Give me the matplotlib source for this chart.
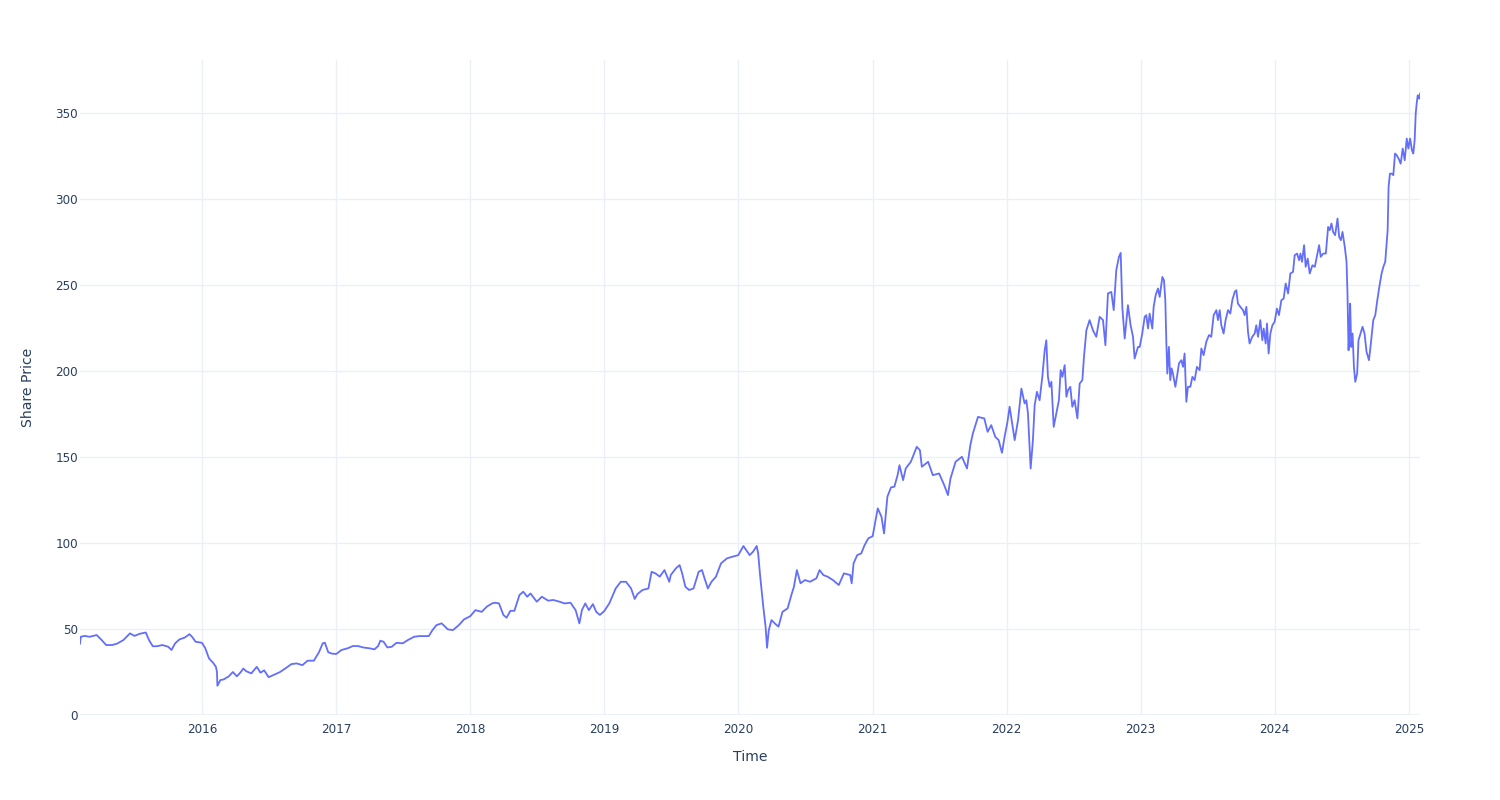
import numpy as np
import pandas as pd
import matplotlib
matplotlib.use("Agg")
import matplotlib.pyplot as plt
import matplotlib.dates as mdates

# Time stamps as decimal years and share price
t_year = [
    2015.090, 2015.096, 2015.123, 2015.162, 2015.214, 2015.247, 2015.285, 2015.329, 2015.367, 2015.414,
    2015.463, 2015.496, 2015.534, 2015.581, 2015.605, 2015.633, 2015.666, 2015.704, 2015.748, 2015.773,
    2015.800, 2015.833, 2015.871, 2015.907, 2015.926, 2015.953, 2016.000, 2016.025, 2016.052, 2016.085,
    2016.104, 2016.112, 2016.115, 2016.137, 2016.162, 2016.200, 2016.230, 2016.260, 2016.285, 2016.308,
    2016.329, 2016.367, 2016.408, 2016.436, 2016.463, 2016.496, 2016.534, 2016.581, 2016.619, 2016.666,
    2016.704, 2016.748, 2016.786, 2016.833, 2016.871, 2016.899, 2016.915, 2016.940, 2016.967, 2017.000,
    2017.038, 2017.085, 2017.123, 2017.162, 2017.200, 2017.247, 2017.285, 2017.312, 2017.329, 2017.353,
    2017.381, 2017.414, 2017.449, 2017.496, 2017.534, 2017.581, 2017.619, 2017.666, 2017.690, 2017.718,
    2017.748, 2017.786, 2017.833, 2017.871, 2017.915, 2017.953, 2018.000, 2018.038, 2018.085, 2018.123,
    2018.162, 2018.186, 2018.214, 2018.247, 2018.271, 2018.299, 2018.329, 2018.367, 2018.395, 2018.425,
    2018.449, 2018.496, 2018.534, 2018.581, 2018.619, 2018.666, 2018.704, 2018.748, 2018.786, 2018.814,
    2018.833, 2018.858, 2018.885, 2018.915, 2018.940, 2018.967, 2019.000, 2019.038, 2019.085, 2019.123,
    2019.162, 2019.200, 2019.227, 2019.247, 2019.285, 2019.329, 2019.353, 2019.381, 2019.414, 2019.449,
    2019.485, 2019.496, 2019.534, 2019.562, 2019.581, 2019.605, 2019.633, 2019.666, 2019.704, 2019.729,
    2019.748, 2019.773, 2019.800, 2019.833, 2019.871, 2019.915, 2019.953, 2020.000, 2020.038, 2020.085,
    2020.110, 2020.137, 2020.148, 2020.162, 2020.186, 2020.203, 2020.214, 2020.227, 2020.247, 2020.271,
    2020.299, 2020.329, 2020.367, 2020.395, 2020.414, 2020.436, 2020.463, 2020.496, 2020.534, 2020.581,
    2020.605, 2020.633, 2020.666, 2020.704, 2020.748, 2020.786, 2020.833, 2020.844, 2020.858, 2020.885,
    2020.915, 2020.940, 2020.967, 2021.000, 2021.038, 2021.066, 2021.085, 2021.110, 2021.137, 2021.162,
    2021.186, 2021.200, 2021.227, 2021.247, 2021.285, 2021.329, 2021.353, 2021.367, 2021.414, 2021.449,
    2021.496, 2021.534, 2021.562, 2021.581, 2021.619, 2021.666, 2021.704, 2021.729, 2021.748, 2021.786,
    2021.833, 2021.858, 2021.885, 2021.915, 2021.940, 2021.965, 2021.985, 2022.005, 2022.022, 2022.060,
    2022.085, 2022.110, 2022.134, 2022.147, 2022.159, 2022.179, 2022.196, 2022.209, 2022.226, 2022.246,
    2022.266, 2022.284, 2022.296, 2022.308, 2022.321, 2022.334, 2022.351, 2022.371, 2022.390, 2022.403,
    2022.416, 2022.433, 2022.446, 2022.458, 2022.475, 2022.490, 2022.507, 2022.528, 2022.545, 2022.565,
    2022.577, 2022.595, 2022.619, 2022.644, 2022.669, 2022.694, 2022.719, 2022.737, 2022.756, 2022.781,
    2022.799, 2022.818, 2022.838, 2022.851, 2022.863, 2022.881, 2022.905, 2022.925, 2022.943, 2022.955,
    2022.980, 2022.993, 2023.012, 2023.030, 2023.042, 2023.055, 2023.067, 2023.087, 2023.097, 2023.112,
    2023.129, 2023.142, 2023.162, 2023.174, 2023.184, 2023.192, 2023.199, 2023.211, 2023.221, 2023.231,
    2023.241, 2023.259, 2023.271, 2023.286, 2023.304, 2023.316, 2023.328, 2023.341, 2023.353, 2023.371,
    2023.386, 2023.403, 2023.420, 2023.440, 2023.453, 2023.470, 2023.490, 2023.510, 2023.527, 2023.545,
    2023.565, 2023.577, 2023.590, 2023.602, 2023.619, 2023.634, 2023.652, 2023.669, 2023.684, 2023.702,
    2023.714, 2023.726, 2023.744, 2023.764, 2023.776, 2023.789, 2023.801, 2023.813, 2023.833, 2023.851,
    2023.863, 2023.876, 2023.893, 2023.908, 2023.918, 2023.933, 2023.943, 2023.955, 2023.968, 2023.983,
    2024.000, 2024.017, 2024.032, 2024.050, 2024.067, 2024.082, 2024.100, 2024.117, 2024.137, 2024.149,
    2024.167, 2024.182, 2024.192, 2024.204, 2024.219, 2024.231, 2024.246, 2024.261, 2024.281, 2024.299,
    2024.316, 2024.331, 2024.343, 2024.361, 2024.381, 2024.398, 2024.410, 2024.423, 2024.435, 2024.450,
    2024.468, 2024.480, 2024.493, 2024.505, 2024.522, 2024.535, 2024.542, 2024.550, 2024.555, 2024.562,
    2024.570, 2024.580, 2024.590, 2024.600, 2024.614, 2024.624, 2024.639, 2024.654, 2024.669, 2024.684,
    2024.702, 2024.716, 2024.734, 2024.749, 2024.764, 2024.779, 2024.796, 2024.809, 2024.823, 2024.833,
    2024.841, 2024.848, 2024.858, 2024.871, 2024.883, 2024.896, 2024.908, 2024.923, 2024.938, 2024.953,
    2024.968, 2024.983, 2024.995, 2025.008, 2025.022, 2025.032, 2025.042, 2025.050, 2025.057, 2025.065,
    2025.075, 2025.082,
]

price = [
    41.5, 45.5, 46.0, 45.5, 46.5, 44.0, 40.7, 40.7, 41.5, 43.6,
    47.5, 46.0, 47.2, 48.0, 43.6, 40.0, 40.0, 40.7, 39.7, 37.8,
    41.7, 44.0, 45.0, 47.0, 45.5, 42.6, 42.0, 38.8, 33.0, 30.2,
    28.0, 25.0, 17.0, 20.3, 20.7, 22.5, 25.0, 22.5, 24.6, 27.0,
    25.5, 24.2, 28.0, 24.6, 26.0, 22.0, 23.3, 25.0, 27.0, 29.6,
    30.0, 29.0, 31.6, 31.6, 36.5, 41.7, 42.0, 36.5, 35.7, 35.5,
    37.8, 38.8, 40.1, 40.1, 39.3, 38.8, 38.2, 40.1, 43.2, 42.6,
    39.3, 39.7, 42.0, 41.7, 43.6, 45.5, 45.9, 45.9, 45.9, 49.4,
    52.3, 53.3, 49.8, 49.4, 52.3, 55.6, 57.5, 61.0, 60.0, 63.0,
    64.9, 65.3, 64.9, 58.2, 56.6, 60.6, 60.6, 69.8, 71.7, 68.8,
    70.7, 65.9, 68.8, 66.5, 66.9, 65.9, 64.9, 65.3, 61.0, 53.3,
    61.0, 64.9, 61.0, 64.5, 60.0, 58.2, 60.5, 65.0, 73.6, 77.5,
    77.5, 73.6, 67.5, 70.3, 72.7, 73.6, 83.3, 82.4, 80.5, 84.3,
    77.5, 81.4, 85.3, 87.2, 82.4, 74.6, 72.7, 73.6, 83.3, 84.3,
    79.5, 73.6, 77.5, 80.4, 88.2, 91.1, 92.0, 93.0, 98.3, 93.0,
    95.0, 98.3, 94.0, 81.4, 63.0, 51.4, 39.1, 49.4, 55.2, 53.3,
    51.4, 60.0, 62.0, 69.8, 74.6, 84.3, 76.6, 78.5, 77.5, 79.5,
    84.3, 81.4, 80.4, 78.5, 75.6, 82.4, 81.4, 76.6, 88.2, 93.0,
    94.0, 98.8, 102.7, 104.0, 120.2, 115.3, 105.6, 127.0, 132.4, 132.8,
    139.5, 145.3, 136.6, 143.4, 147.3, 156.0, 154.0, 144.4, 147.3, 139.5,
    140.5, 133.7, 127.9, 137.6, 147.3, 150.2, 143.4, 157.0, 163.8, 173.4,
    172.5, 164.7, 168.6, 161.8, 159.9, 152.5, 162.0, 170.0, 179.3, 159.9,
    171.5, 189.9, 181.2, 183.1, 175.4, 143.4, 159.9, 180.2, 188.0, 183.1,
    196.7, 212.2, 218.0, 196.7, 190.9, 193.8, 167.6, 175.4, 183.1, 200.6,
    196.7, 203.5, 185.1, 189.0, 190.9, 179.3, 183.1, 172.5, 192.8, 194.8,
    208.3, 223.8, 229.7, 223.8, 220.0, 231.6, 229.7, 215.1, 245.2, 246.1,
    235.5, 258.7, 266.5, 268.8, 237.4, 219.0, 238.4, 226.7, 220.0, 207.4,
    214.1, 214.1, 221.9, 231.6, 232.6, 224.8, 233.5, 224.8, 237.4, 244.2,
    248.1, 243.2, 254.8, 252.9, 241.3, 216.0, 198.6, 214.1, 194.8, 201.6,
    198.6, 190.9, 196.7, 204.5, 206.4, 202.5, 210.3, 182.2, 190.9, 190.9,
    196.7, 194.8, 202.5, 200.6, 213.2, 209.3, 217.1, 221.0, 220.0, 232.6,
    235.5, 229.7, 235.5, 226.7, 221.9, 229.7, 235.5, 233.5, 241.3, 246.1,
    247.1, 239.3, 237.4, 235.5, 232.6, 237.4, 222.9, 216.1, 220.0, 221.9,
    226.7, 220.0, 229.7, 218.0, 224.8, 216.1, 227.7, 210.3, 221.9, 226.7,
    228.7, 236.4, 232.6, 241.3, 242.2, 251.0, 245.2, 256.8, 257.8, 267.4,
    268.4, 264.5, 268.4, 263.6, 273.3, 260.7, 265.5, 256.8, 261.6, 260.7,
    267.4, 273.3, 266.5, 268.4, 268.4, 283.9, 282.0, 285.9, 281.0, 279.1,
    288.8, 278.1, 276.2, 281.0, 272.3, 263.6, 245.2, 212.2, 221.9, 239.3,
    214.1, 221.9, 202.5, 193.8, 198.6, 218.0, 221.9, 225.8, 221.9, 211.2,
    206.4, 216.1, 229.7, 232.6, 241.3, 249.0, 256.8, 260.7, 263.6, 274.2,
    282.0, 307.2, 314.9, 314.9, 314.0, 326.6, 325.6, 323.6, 320.7, 329.5,
    322.7, 335.3, 329.5, 335.3, 328.5, 326.6, 334.3, 349.8, 355.6, 360.5,
    358.5, 361.4,
]

x_tick_years = [2016, 2017, 2018, 2019, 2020, 2021, 2022, 2023, 2024, 2025]
y_ticks = [0, 50, 100, 150, 200, 250, 300, 350]
x_title = "Time"
y_title = "Share Price"


def to_datetime(y):
    yr = int(np.floor(y))
    start = pd.Timestamp(year=yr, month=1, day=1)
    end = pd.Timestamp(year=yr + 1, month=1, day=1)
    return start + (end - start) * (y - yr)


dates = [to_datetime(y) for y in t_year]

TEXT = "#2a3f5f"
GRID = "#EBF0F8"
LINE = "#636EFA"

plt.rcParams["font.family"] = ["DejaVu Sans"]

fig = plt.figure(figsize=(15, 8), dpi=100)
fig.patch.set_facecolor("white")
ax = fig.add_axes([80 / 1500, 85 / 800, 1340 / 1500, 655 / 800])
ax.set_facecolor("white")

ax.plot(dates, price, color=LINE, linewidth=1.3, solid_joinstyle="round", zorder=3)

ax.set_xlim(dates[0], dates[-1])
ax.set_ylim(0, 381)

ax.set_xticks([pd.Timestamp(year=y, month=1, day=1) for y in x_tick_years])
ax.xaxis.set_major_formatter(mdates.DateFormatter("%Y"))
ax.set_yticks(y_ticks)

ax.grid(True, color=GRID, linewidth=1, zorder=0)
ax.set_axisbelow(True)
ax.axhline(0, color=GRID, linewidth=2, zorder=1)

for s in ax.spines.values():
    s.set_visible(False)

ax.tick_params(axis="both", length=0, colors=TEXT, labelsize=8.64)
ax.tick_params(axis="x", pad=5.5)
ax.tick_params(axis="y", pad=1.5)

ax.set_xlabel(x_title, color=TEXT, fontsize=10.08, labelpad=10)
ax.set_ylabel(y_title, color=TEXT, fontsize=10.08, labelpad=14.5)

fig.savefig("out.png", dpi=100, facecolor="white")
